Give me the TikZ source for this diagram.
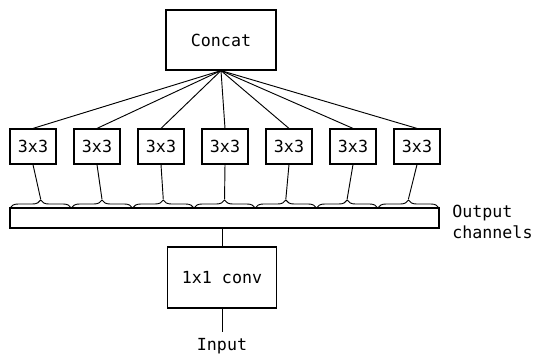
\documentclass[tikz,border=0pt]{standalone}
\usepackage{fontspec}
\setmonofont{DejaVu Sans Mono}
\usetikzlibrary{decorations.pathreplacing}

\tikzset{
  block/.style={draw,line width=0.9pt,font=\ttfamily\fontsize{12.5}{14}\selectfont,inner sep=0pt},
  conv/.style={block,minimum width=34.5pt,minimum height=26.25pt},
  wire/.style={line width=0.7pt},
  chbrace/.style={decorate,decoration={brace,amplitude=6pt},line width=0.7pt},
  lbl/.style={font=\ttfamily\fontsize{12.5}{16}\selectfont,inner sep=0pt}
}

\begin{document}
\begin{tikzpicture}[x=0.75pt,y=-0.75pt]

\useasboundingbox (0,0) rectangle (533,358);

% === Concat on top ===
\node[block,minimum width=82.5pt,minimum height=45pt] (concat) at (221,40) {Concat};

% === Channel bar ===
\node[draw,line width=0.9pt,minimum width=321.75pt,minimum height=15pt,inner sep=0pt] (bar) at (224.5,218) {};
\node[lbl,anchor=west,align=left] (outlbl) at (452,222) {Output\\channels};

% === Grouped 3x3 convs, one per slice of channels ===
\foreach \i in {1,...,7} {
    \pgfmathsetmacro{\bx}{33+64*(\i-1)}
    \pgfmathsetmacro{\sl}{10+61.3*(\i-1)}
    \pgfmathsetmacro{\sr}{\sl+61.3}
    \pgfmathsetmacro{\tx}{(\sl+\sr)/2}
    \node[conv] (g\i) at (\bx,146.5) {3x3};
    \draw[chbrace] (\sl,208) -- (\sr,208);
    \coordinate (tip\i) at (\tx,199);
    \draw[wire] (concat.south) -- (g\i.north);
    \draw[wire] (g\i.south) -- (tip\i);
}

% === 1x1 conv and input ===
\node[block,minimum width=81.75pt,minimum height=45.75pt] (pw) at (222,277.5) {1x1 conv};
\node[lbl,anchor=north,inner sep=0pt] (input) at (222,338) {Input};
\coordinate (inend) at (222,332);
\draw[wire] (pw.north) -- (pw.north |- bar.south);
\draw[wire] (pw.south) -- (inend);

\end{tikzpicture}
\end{document}
